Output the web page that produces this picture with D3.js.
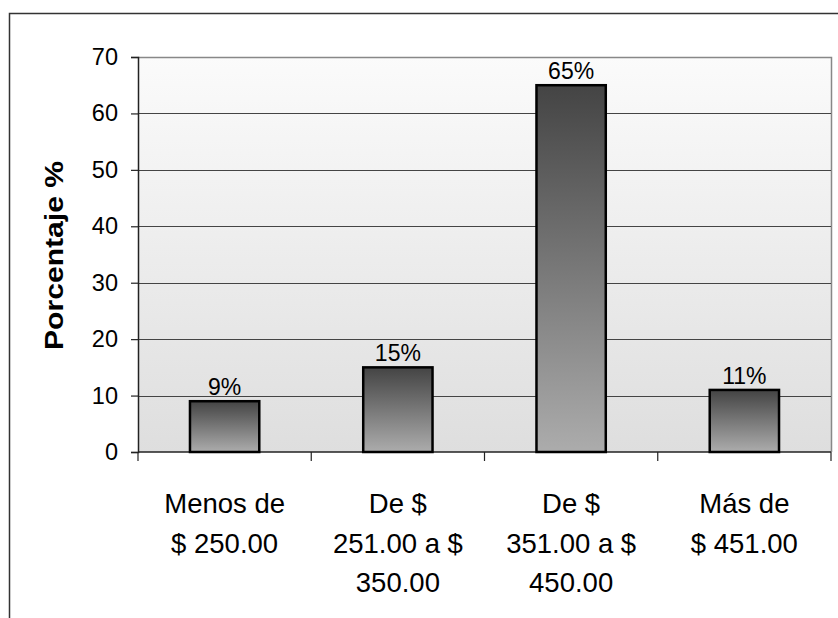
<!DOCTYPE html>
<html>
<head>
<meta charset="utf-8">
<script src="https://cdn.jsdelivr.net/npm/d3@7"></script>
<style>
  html, body { margin: 0; padding: 0; background: #fff; }
  svg { display: block; font-family: "Liberation Sans", Arial, sans-serif; }
</style>
</head>
<body>
<svg id="chart" width="838" height="618"></svg>
<script>
// Price ranges (multi-line labels) and their share of responses
const categories = [
  ["Menos de", "$ 250.00"],
  ["De $", "251.00 a $", "350.00"],
  ["De $", "351.00 a $", "450.00"],
  ["Más de", "$ 451.00"]
];
const values = [9, 15, 65, 11];
const valueLabels = ["9%", "15%", "65%", "11%"];
const yTicks = [0, 10, 20, 30, 40, 50, 60, 70];
const yTitle = "Porcentaje %";

const svg = d3.select("#chart");
const m = { left: 138, top: 57, right: 831, bottom: 452 };

// outer chart frame (runs off the right and bottom edges)
svg.append("rect")
  .attr("x", 9.5).attr("y", 13.5).attr("width", 840).attr("height", 620)
  .attr("fill", "none").attr("stroke", "#333").attr("stroke-width", 1.5);

const defs = svg.append("defs");
const bg = defs.append("linearGradient").attr("id", "plotBg")
  .attr("x1", 0).attr("y1", 0).attr("x2", 0).attr("y2", 1);
bg.append("stop").attr("offset", 0).attr("stop-color", "#fbfbfb");
bg.append("stop").attr("offset", 1).attr("stop-color", "#dedede");

const barGrad = defs.append("linearGradient").attr("id", "barFill")
  .attr("x1", 0).attr("y1", 0).attr("x2", 0).attr("y2", 1);
barGrad.append("stop").attr("offset", 0).attr("stop-color", "#444");
barGrad.append("stop").attr("offset", 1).attr("stop-color", "#acacac");

const x = d3.scaleBand()
  .domain(d3.range(categories.length))
  .range([m.left, m.right])
  .paddingInner(0.6).paddingOuter(0.3);
const xCat = d3.scaleBand()
  .domain(d3.range(categories.length))
  .range([m.left, m.right]);
const y = d3.scaleLinear().domain([0, 70]).range([m.bottom, m.top]);

// plot area
svg.append("rect")
  .attr("x", m.left).attr("y", m.top)
  .attr("width", m.right - m.left).attr("height", m.bottom - m.top)
  .attr("fill", "url(#plotBg)");
// top / right border of plot area
svg.append("path")
  .attr("d", `M${m.left},${m.top + 0.5}H${m.right + 0.5}V${m.bottom}`)
  .attr("fill", "none").attr("stroke", "#888").attr("stroke-width", 1.5);

// gridlines
svg.append("g").selectAll("line")
  .data(yTicks.filter(t => t > 0 && t < 70))
  .join("line")
  .attr("x1", m.left).attr("x2", m.right)
  .attr("y1", d => Math.round(y(d)) + 0.5).attr("y2", d => Math.round(y(d)) + 0.5)
  .attr("stroke", "#444").attr("stroke-width", 1);

// y axis
const yAxis = svg.append("g")
  .attr("transform", `translate(${m.left},0)`)
  .call(d3.axisLeft(y).tickValues(yTicks).tickSize(7).tickPadding(13));
yAxis.select(".domain").attr("stroke", "#222").attr("stroke-width", 1.5);
yAxis.selectAll(".tick line").attr("stroke", "#222").attr("stroke-width", 1.2);
yAxis.selectAll(".tick text")
  .attr("font-size", 23.5).attr("fill", "#000")
  .attr("font-family", "Liberation Sans, Arial, sans-serif");

// x axis baseline and category ticks
svg.append("line")
  .attr("x1", m.left).attr("x2", m.right)
  .attr("y1", m.bottom).attr("y2", m.bottom)
  .attr("stroke", "#222").attr("stroke-width", 1.5);
svg.append("g").selectAll("line")
  .data(d3.range(categories.length + 1))
  .join("line")
  .attr("x1", d => d < categories.length ? xCat(d) : m.right)
  .attr("x2", d => d < categories.length ? xCat(d) : m.right)
  .attr("y1", m.bottom).attr("y2", m.bottom + 9)
  .attr("stroke", "#222").attr("stroke-width", 1.2);

// bars
svg.append("g").selectAll("rect")
  .data(values)
  .join("rect")
  .attr("x", (d, i) => x(i))
  .attr("y", d => y(d))
  .attr("width", x.bandwidth())
  .attr("height", d => m.bottom - y(d))
  .attr("fill", "url(#barFill)")
  .attr("stroke", "#000").attr("stroke-width", 2.5);

// value labels
svg.append("g").selectAll("text")
  .data(values)
  .join("text")
  .attr("x", (d, i) => x(i) + x.bandwidth() / 2)
  .attr("y", d => y(d) - 6)
  .attr("text-anchor", "middle")
  .attr("font-size", 23).attr("fill", "#000")
  .text((d, i) => valueLabels[i]);

// category labels
const catG = svg.append("g").selectAll("text")
  .data(categories)
  .join("text")
  .attr("x", (d, i) => xCat(i) + xCat.bandwidth() / 2)
  .attr("y", 513)
  .attr("text-anchor", "middle")
  .attr("font-size", 27.5).attr("fill", "#000");
catG.selectAll("tspan")
  .data(d => d)
  .join("tspan")
  .attr("x", function () { return d3.select(this.parentNode).attr("x"); })
  .attr("dy", (d, i) => i === 0 ? 0 : 39.5)
  .text(d => d);

// y axis title
svg.append("text")
  .attr("transform", `translate(63,255.5) rotate(-90)`)
  .attr("text-anchor", "middle")
  .attr("font-size", 25).attr("font-weight", "bold").attr("fill", "#000")
  .attr("textLength", 189).attr("lengthAdjust", "spacingAndGlyphs")
  .text(yTitle);
</script>
</body>
</html>
